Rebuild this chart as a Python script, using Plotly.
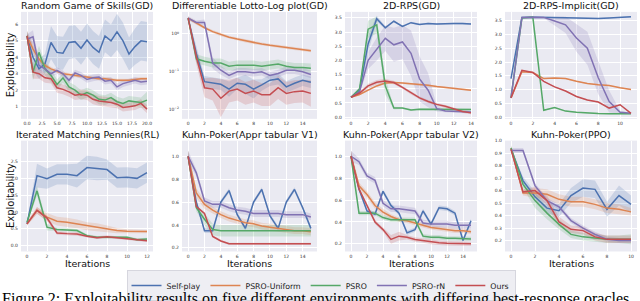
import plotly.graph_objects as go

W, H = 640, 301
NAMES = ["Self-play", "PSRO-Uniform", "PSRO", "PSRO-rN", "Ours"]
COLORS = {"Self-play": "#4c72b0", "PSRO-Uniform": "#dd8452", "PSRO": "#55a868",
          "PSRO-rN": "#8172b3", "Ours": "#c44e52"}

# ---------------- data (means and band half-widths) ----------------
# 1 Random Game of Skills (GD), iterations 0..20
rgs_x = list(range(21))
rgs_mean = {
    "Self-play":    [5.3, 4.0, 3.3, 3.6, 4.9, 4.3, 4.25, 4.9, 4.95, 4.55, 5.05, 4.6, 4.3, 5.3, 5.0, 5.55, 5.0, 4.2, 4.65, 5.0, 4.95],
    "PSRO-Uniform": [5.3, 4.5, 3.9, 3.5, 3.3, 3.15, 3.0, 2.95, 2.9, 2.85, 2.8, 2.75, 2.7, 2.7, 2.65, 2.6, 2.6, 2.6, 2.65, 2.7, 2.7],
    "PSRO":         [5.3, 3.1, 4.3, 3.3, 2.9, 2.35, 2.75, 2.2, 2.0, 1.7, 1.85, 1.7, 1.45, 1.4, 1.55, 1.3, 1.2, 1.35, 1.3, 1.25, 1.4],
    "PSRO-rN":      [5.1, 5.25, 3.5, 3.3, 3.0, 3.2, 3.0, 2.6, 3.05, 2.9, 2.65, 2.75, 2.8, 2.55, 2.6, 2.2, 2.4, 2.5, 2.6, 2.5, 2.55],
    "Ours":         [5.3, 3.1, 3.0, 2.75, 2.7, 2.15, 2.05, 1.9, 1.7, 1.75, 1.7, 1.45, 1.35, 1.3, 1.25, 1.15, 0.95, 1.0, 1.05, 1.2, 0.85],
}
rgs_band = {
    "Self-play":    [0.3, 0.8, 0.6, 0.6, 1.0, 1.0, 1.0, 1.0, 1.0, 1.0, 1.0, 1.0, 1.0, 1.0, 1.0, 1.1, 1.1, 1.0, 1.1, 1.2, 1.2],
    "PSRO-Uniform": [0.3, 0.3, 0.2, 0.15, 0.12, 0.1, 0.1, 0.1, 0.1, 0.1, 0.1, 0.1, 0.1, 0.1, 0.1, 0.1, 0.1, 0.1, 0.1, 0.1, 0.1],
    "PSRO":         [0.3, 0.5, 0.4, 0.4, 0.4, 0.3, 0.3, 0.3, 0.3, 0.3, 0.3, 0.3, 0.3, 0.3, 0.3, 0.3, 0.3, 0.3, 0.3, 0.3, 0.5],
    "PSRO-rN":      [0.3, 0.4, 0.3, 0.2, 0.2, 0.2, 0.2, 0.2, 0.2, 0.2, 0.2, 0.2, 0.2, 0.2, 0.2, 0.2, 0.2, 0.2, 0.2, 0.2, 0.2],
    "Ours":         [0.3, 0.4, 0.3, 0.3, 0.3, 0.3, 0.3, 0.3, 0.3, 0.3, 0.3, 0.3, 0.3, 0.3, 0.3, 0.25, 0.25, 0.25, 0.25, 0.25, 0.25],
}

# 2 Differentiable Lotto (log), iterations 0..15 ; band in log10 units
lotto_x = list(range(16))
lotto_mean = {
    "Self-play":    [2.6, 0.3, 0.055, 0.05, 0.047, 0.035, 0.05, 0.047, 0.035, 0.045, 0.06, 0.065, 0.04, 0.05, 0.06, 0.053],
    "PSRO-Uniform": [2.6, 1.9, 1.45, 1.15, 0.95, 0.82, 0.73, 0.65, 0.59, 0.54, 0.5, 0.47, 0.44, 0.41, 0.38, 0.36],
    "PSRO":         [2.6, 0.22, 0.19, 0.17, 0.17, 0.14, 0.15, 0.15, 0.15, 0.14, 0.15, 0.16, 0.14, 0.13, 0.13, 0.125],
    "PSRO-rN":      [2.6, 2.0, 2.0, 0.17, 0.11, 0.08, 0.1, 0.1, 0.094, 0.1, 0.08, 0.09, 0.11, 0.11, 0.1, 0.085],
    "Ours":         [2.6, 0.25, 0.038, 0.035, 0.02, 0.031, 0.035, 0.027, 0.031, 0.025, 0.025, 0.038, 0.027, 0.03, 0.031, 0.027],
}
lotto_band = {
    "Self-play":    [0.05, 0.2, 0.15, 0.15, 0.15, 0.2, 0.15, 0.25, 0.25, 0.15, 0.15, 0.15, 0.15, 0.15, 0.15, 0.15],
    "PSRO-Uniform": [0.04, 0.04, 0.04, 0.04, 0.04, 0.04, 0.04, 0.04, 0.04, 0.04, 0.04, 0.04, 0.04, 0.04, 0.04, 0.04],
    "PSRO":         [0.05, 0.12, 0.12, 0.12, 0.12, 0.12, 0.12, 0.12, 0.12, 0.12, 0.12, 0.12, 0.12, 0.12, 0.12, 0.12],
    "PSRO-rN":      [0.05, 0.05, 0.08, 0.15, 0.12, 0.1, 0.1, 0.1, 0.1, 0.1, 0.1, 0.1, 0.1, 0.1, 0.1, 0.1],
    "Ours":         [0.05, 0.2, 0.25, 0.3, 0.5, 0.3, 0.3, 0.3, 0.3, 0.3, 0.3, 0.3, 0.3, 0.3, 0.3, 0.35],
}

# 3 2D-RPS (GD), iterations 0..14
rps_x = list(range(15))
rps_mean = {
    "Self-play":    [0.7, 0.95, 2.58, 3.47, 3.15, 3.38, 3.2, 3.33, 3.27, 3.3, 3.28, 3.3, 3.3, 3.3, 3.28],
    "PSRO-Uniform": [0.7, 0.8, 0.95, 1.1, 1.2, 1.22, 1.2, 1.18, 1.15, 1.12, 1.08, 1.05, 1.02, 0.98, 0.95],
    "PSRO":         [0.7, 1.0, 3.1, 3.25, 1.1, 0.32, 0.32, 0.25, 0.28, 0.28, 0.28, 0.28, 0.27, 0.27, 0.27],
    "PSRO-rN":      [0.7, 0.9, 2.0, 2.4, 2.78, 2.55, 2.65, 2.25, 1.35, 0.95, 0.3, 0.22, 0.2, 0.18, 0.18],
    "Ours":         [0.7, 0.85, 1.1, 1.23, 1.27, 1.22, 1.05, 0.85, 0.68, 0.55, 0.45, 0.38, 0.28, 0.2, 0.15],
}
rps_band = {
    "Self-play":    [0.02, 0.05, 0.3, 0.1, 0.05, 0.03, 0.03, 0.03, 0.03, 0.03, 0.03, 0.03, 0.03, 0.03, 0.03],
    "PSRO-Uniform": [0.03, 0.03, 0.03, 0.03, 0.03, 0.03, 0.03, 0.03, 0.03, 0.03, 0.03, 0.03, 0.03, 0.03, 0.03],
    "PSRO":         [0.02, 0.05, 0.3, 0.3, 0.3, 0.05, 0.03, 0.03, 0.03, 0.03, 0.03, 0.03, 0.03, 0.03, 0.03],
    "PSRO-rN":      [0.02, 0.05, 0.3, 0.4, 0.45, 0.6, 0.6, 0.8, 0.8, 0.6, 0.1, 0.05, 0.05, 0.05, 0.05],
    "Ours":         [0.03, 0.05, 0.08, 0.08, 0.08, 0.06, 0.05, 0.05, 0.05, 0.05, 0.05, 0.05, 0.05, 0.05, 0.05],
}

# 4 2D-RPS-Implicit (GD), iterations 0..11
rpsi_x = list(range(12))
rpsi_mean = {
    "Self-play":    [1.4, 3.62, 3.63, 3.63, 3.62, 3.61, 3.6, 3.58, 3.58, 3.6, 3.62, 3.64],
    "PSRO-Uniform": [0.7, 1.65, 1.62, 1.4, 1.42, 1.4, 1.3, 1.22, 1.18, 1.15, 1.07, 1.0],
    "PSRO":         [0.7, 3.6, 3.63, 0.25, 0.35, 0.22, 0.18, 0.15, 0.13, 0.12, 0.12, 0.12],
    "PSRO-rN":      [0.7, 3.62, 3.63, 3.62, 3.49, 3.35, 2.87, 2.5, 1.43, 0.57, 0.18, 0.14],
    "Ours":         [0.7, 1.7, 1.62, 1.3, 1.1, 0.95, 0.75, 0.62, 0.55, 0.33, 0.45, 0.14],
}
rpsi_band = {
    "Self-play":    [0.02, 0.02, 0.02, 0.02, 0.02, 0.02, 0.02, 0.02, 0.02, 0.02, 0.02, 0.02],
    "PSRO-Uniform": [0.02, 0.02, 0.02, 0.02, 0.02, 0.02, 0.02, 0.02, 0.02, 0.02, 0.02, 0.02],
    "PSRO":         [0.02, 0.02, 0.02, 0.02, 0.02, 0.02, 0.02, 0.02, 0.02, 0.02, 0.02, 0.02],
    "PSRO-rN":      [0.02, 0.02, 0.02, 0.02, 0.15, 0.3, 0.5, 0.6, 0.6, 0.4, 0.05, 0.02],
    "Ours":         [0.02, 0.02, 0.02, 0.02, 0.02, 0.02, 0.02, 0.02, 0.02, 0.02, 0.02, 0.02],
}

# 5 Iterated Matching Pennies (RL), iterations 0..12 (no PSRO-rN)
imp_x = list(range(13))
imp_mean = {
    "Self-play":    [0.65, 2.08, 1.99, 2.12, 2.12, 2.08, 2.32, 2.29, 2.26, 2.02, 2.03, 2.0, 2.17],
    "PSRO-Uniform": [0.65, 1.05, 0.85, 0.73, 0.7, 0.65, 0.58, 0.55, 0.5, 0.45, 0.43, 0.42, 0.42],
    "PSRO":         [0.7, 1.63, 0.55, 0.48, 0.47, 0.45, 0.3, 0.25, 0.25, 0.25, 0.25, 0.18, 0.2],
    "Ours":         [0.65, 1.05, 0.82, 0.38, 0.36, 0.35, 0.28, 0.24, 0.27, 0.24, 0.22, 0.18, 0.15],
}
imp_band = {
    "Self-play":    [0.05, 0.35, 0.3, 0.3, 0.3, 0.35, 0.35, 0.35, 0.3, 0.3, 0.3, 0.3, 0.3],
    "PSRO-Uniform": [0.05, 0.1, 0.12, 0.13, 0.13, 0.13, 0.12, 0.12, 0.1, 0.08, 0.06, 0.05, 0.05],
    "PSRO":         [0.05, 0.15, 0.1, 0.05, 0.05, 0.05, 0.04, 0.04, 0.04, 0.04, 0.04, 0.04, 0.04],
    "Ours":         [0.05, 0.1, 0.08, 0.05, 0.05, 0.05, 0.04, 0.04, 0.04, 0.04, 0.04, 0.04, 0.04],
}

# 6 Kuhn-Poker (Appr tabular V1), iterations 0..15
kv1_x = list(range(16))
kv1_mean = {
    "Self-play":    [1.0, 0.6, 0.35, 0.35, 0.6, 0.7, 0.49, 0.37, 0.6, 0.71, 0.48, 0.37, 0.6, 0.71, 0.55, 0.37],
    "PSRO-Uniform": [1.0, 0.68, 0.58, 0.53, 0.49, 0.46, 0.44, 0.42, 0.41, 0.39, 0.38, 0.37, 0.36, 0.35, 0.35, 0.34],
    "PSRO":         [1.0, 0.55, 0.45, 0.36, 0.35, 0.35, 0.35, 0.35, 0.35, 0.35, 0.35, 0.35, 0.35, 0.35, 0.35, 0.35],
    "PSRO-rN":      [1.0, 0.855, 0.61, 0.58, 0.58, 0.55, 0.53, 0.52, 0.5, 0.5, 0.5, 0.5, 0.49, 0.49, 0.49, 0.47],
    "Ours":         [1.0, 0.56, 0.5, 0.3, 0.26, 0.235, 0.235, 0.235, 0.235, 0.235, 0.235, 0.235, 0.235, 0.235, 0.235, 0.235],
}
kv1_band = {
    "Self-play":    [0.05, 0.02, 0.02, 0.02, 0.02, 0.02, 0.02, 0.02, 0.02, 0.02, 0.02, 0.02, 0.02, 0.02, 0.02, 0.02],
    "PSRO-Uniform": [0.05, 0.04, 0.04, 0.03, 0.03, 0.03, 0.03, 0.03, 0.03, 0.03, 0.03, 0.03, 0.03, 0.03, 0.03, 0.03],
    "PSRO":         [0.05, 0.03, 0.05, 0.05, 0.05, 0.05, 0.05, 0.05, 0.05, 0.05, 0.05, 0.05, 0.05, 0.05, 0.05, 0.05],
    "PSRO-rN":      [0.05, 0.03, 0.03, 0.03, 0.03, 0.03, 0.03, 0.03, 0.03, 0.03, 0.03, 0.03, 0.03, 0.03, 0.03, 0.03],
    "Ours":         [0.05, 0.01, 0.01, 0.01, 0.01, 0.01, 0.01, 0.01, 0.01, 0.01, 0.01, 0.01, 0.01, 0.01, 0.01, 0.01],
}

# 7 Kuhn-Poker (Appr tabular V2), iterations 0..15
kv2_x = list(range(16))
kv2_mean = {
    "Self-play":    [1.0, 0.7, 0.5, 0.47, 0.68, 0.55, 0.48, 0.3, 0.33, 0.5, 0.38, 0.53, 0.52, 0.48, 0.23, 0.41],
    "PSRO-Uniform": [1.0, 0.73, 0.65, 0.55, 0.49, 0.45, 0.42, 0.41, 0.39, 0.37, 0.35, 0.34, 0.33, 0.32, 0.32, 0.31],
    "PSRO":         [1.0, 0.48, 0.48, 0.48, 0.44, 0.42, 0.42, 0.42, 0.42, 0.27, 0.26, 0.26, 0.25, 0.25, 0.25, 0.245],
    "PSRO-rN":      [1.0, 0.95, 0.82, 0.78, 0.57, 0.52, 0.52, 0.51, 0.5, 0.39, 0.38, 0.38, 0.38, 0.37, 0.37, 0.37],
    "Ours":         [1.0, 0.7, 0.55, 0.4, 0.33, 0.24, 0.27, 0.26, 0.24, 0.23, 0.215, 0.21, 0.205, 0.205, 0.2, 0.2],
}
kv2_band = {
    "Self-play":    [0.05, 0.02, 0.02, 0.02, 0.02, 0.02, 0.02, 0.02, 0.02, 0.02, 0.02, 0.02, 0.02, 0.02, 0.02, 0.02],
    "PSRO-Uniform": [0.05, 0.03, 0.03, 0.03, 0.03, 0.02, 0.02, 0.02, 0.02, 0.02, 0.02, 0.02, 0.02, 0.02, 0.02, 0.02],
    "PSRO":         [0.05, 0.02, 0.02, 0.02, 0.02, 0.02, 0.02, 0.02, 0.02, 0.02, 0.02, 0.02, 0.02, 0.02, 0.02, 0.02],
    "PSRO-rN":      [0.05, 0.03, 0.03, 0.03, 0.03, 0.03, 0.03, 0.03, 0.03, 0.03, 0.03, 0.03, 0.03, 0.03, 0.03, 0.03],
    "Ours":         [0.05, 0.02, 0.02, 0.02, 0.02, 0.04, 0.04, 0.02, 0.02, 0.02, 0.02, 0.02, 0.02, 0.02, 0.02, 0.02],
}

# 8 Kuhn-Poker (PPO), iterations 0..10
ppo_x = list(range(11))
ppo_mean = {
    "Self-play":    [0.93, 0.68, 0.55, 0.46, 0.44, 0.56, 0.62, 0.61, 0.45, 0.56, 0.49],
    "PSRO-Uniform": [0.94, 0.58, 0.58, 0.57, 0.53, 0.51, 0.51, 0.49, 0.46, 0.45, 0.43],
    "PSRO":         [0.94, 0.65, 0.52, 0.42, 0.33, 0.25, 0.23, 0.22, 0.21, 0.21, 0.21],
    "PSRO-rN":      [0.92, 0.92, 0.64, 0.52, 0.47, 0.36, 0.3, 0.25, 0.21, 0.2, 0.2],
    "Ours":         [0.93, 0.59, 0.6, 0.52, 0.35, 0.29, 0.28, 0.23, 0.21, 0.21, 0.21],
}
ppo_band = {
    "Self-play":    [0.02, 0.03, 0.04, 0.04, 0.05, 0.06, 0.07, 0.07, 0.06, 0.08, 0.07],
    "PSRO-Uniform": [0.02, 0.02, 0.04, 0.04, 0.04, 0.04, 0.04, 0.04, 0.04, 0.04, 0.03],
    "PSRO":         [0.02, 0.03, 0.06, 0.05, 0.04, 0.03, 0.03, 0.03, 0.03, 0.03, 0.04],
    "PSRO-rN":      [0.02, 0.02, 0.02, 0.02, 0.02, 0.02, 0.02, 0.02, 0.02, 0.02, 0.02],
    "Ours":         [0.02, 0.02, 0.03, 0.04, 0.04, 0.03, 0.03, 0.03, 0.03, 0.03, 0.03],
}

TITLES = ["Random Game of Skills(GD)", "Differentiable Lotto-Log plot(GD)", "2D-RPS(GD)",
          "2D-RPS-Implicit(GD)", "Iterated Matching Pennies(RL)", "Kuhn-Poker(Appr tabular V1)",
          "Kuhn-Poker(Appr tabular V2)", "Kuhn-Poker(PPO)"]

# ---------------- layout helpers ----------------
COLS = [(21, 153), (182, 317), (345, 477), (505, 637)]
ROWS = [(10, 118), (140, 252)]


def hexrgba(h, a):
    h = h.lstrip("#")
    return "rgba(%d,%d,%d,%s)" % (int(h[0:2], 16), int(h[2:4], 16), int(h[4:6], 16), a)


panels = [
    dict(x=rgs_x, mean=rgs_mean, band=rgs_band, log=False, xr=[-1, 21], yr=[0.26, 6.76],
         xt=[0, 2.5, 5, 7.5, 10, 12.5, 15, 17.5, 20], xf=".1f", yt=[1, 2, 3, 4, 5, 6], yf="d"),
    dict(x=lotto_x, mean=lotto_mean, band=lotto_band, log=True, xr=[-0.75, 15.75], yr=[-2.24, 0.58],
         xt=list(range(0, 15, 2)), xf="d"),
    dict(x=rps_x, mean=rps_mean, band=rps_band, log=False, xr=[-0.7, 14.7], yr=[-0.06, 3.71],
         xt=list(range(0, 15, 2)), xf="d", yt=[0, 0.5, 1, 1.5, 2, 2.5, 3, 3.5], yf=".1f"),
    dict(x=rpsi_x, mean=rpsi_mean, band=rpsi_band, log=False, xr=[-0.55, 11.55], yr=[-0.06, 3.82],
         xt=list(range(0, 11, 2)), xf="d", yt=[0, 0.5, 1, 1.5, 2, 2.5, 3, 3.5], yf=".1f"),
    dict(x=imp_x, mean=imp_mean, band=imp_band, log=False, xr=[-0.6, 12.6], yr=[-0.17, 3.12],
         xt=list(range(0, 13, 2)), xf="d", yt=[0, 0.5, 1, 1.5, 2, 2.5], yf=".1f"),
    dict(x=kv1_x, mean=kv1_mean, band=kv1_band, log=False, xr=[-0.75, 15.75], yr=[0.168, 1.137],
         xt=list(range(0, 15, 2)), xf="d", yt=[0.2, 0.4, 0.6, 0.8, 1.0], yf=".1f"),
    dict(x=kv2_x, mean=kv2_mean, band=kv2_band, log=False, xr=[-0.75, 15.75], yr=[0.13, 1.143],
         xt=list(range(0, 15, 2)), xf="d", yt=[0.2, 0.4, 0.6, 0.8, 1.0], yf=".1f"),
    dict(x=ppo_x, mean=ppo_mean, band=ppo_band, log=False, xr=[-0.5, 10.5], yr=[0.113, 1.0],
         xt=list(range(0, 11, 2)), xf="d", yt=[0.2, 0.3, 0.4, 0.5, 0.6, 0.7, 0.8, 0.9, 1.0], yf=".1f"),
]

fig = go.Figure()
annotations = []
TICKFONT = dict(family="DejaVu Sans", size=4.5, color="#333333")
shown = set()

for i, p in enumerate(panels):
    r, c = divmod(i, 4)
    k = i + 1
    xa = "x" if k == 1 else "x%d" % k
    ya = "y" if k == 1 else "y%d" % k
    x0, x1 = COLS[c]
    y0, y1 = ROWS[r]
    xdom = [x0 / W, x1 / W]
    ydom = [1 - y1 / H, 1 - y0 / H]
    xs = p["x"]
    for name in NAMES:
        if name not in p["mean"]:
            continue
        m = p["mean"][name]
        b = p["band"][name]
        if p["log"]:
            up = [v * 10 ** d for v, d in zip(m, b)]
            lo = [v / 10 ** d for v, d in zip(m, b)]
        else:
            up = [v + d for v, d in zip(m, b)]
            lo = [v - d for v, d in zip(m, b)]
        fig.add_trace(go.Scatter(x=xs + xs[::-1], y=up + lo[::-1], fill="toself",
                                 fillcolor=hexrgba(COLORS[name], 0.2), line=dict(width=0),
                                 mode="lines", hoverinfo="skip", showlegend=False,
                                 xaxis=xa, yaxis=ya))
    for name in NAMES:
        if name not in p["mean"]:
            continue
        fig.add_trace(go.Scatter(x=xs, y=p["mean"][name], mode="lines", name=name,
                                 line=dict(color=COLORS[name], width=1.5),
                                 showlegend=(name not in shown), legendgroup=name,
                                 xaxis=xa, yaxis=ya))
        shown.add(name)

    xkey = "xaxis" if k == 1 else "xaxis%d" % k
    ykey = "yaxis" if k == 1 else "yaxis%d" % k
    xax = dict(domain=xdom, anchor=ya, range=p["xr"], tickvals=p["xt"], tickformat=p["xf"],
               showgrid=True, gridcolor="white", gridwidth=1, zeroline=False, showline=False,
               ticks="", tickfont=TICKFONT, ticklabelstandoff=1)
    if p["log"]:
        yax = dict(domain=ydom, anchor=xa, type="log", range=p["yr"], tickvals=[0.01, 0.1, 1],
                   ticktext=["10<sup>−2</sup>", "10<sup>−1</sup>", "10<sup>0</sup>"])
    else:
        yax = dict(domain=ydom, anchor=xa, range=p["yr"], tickvals=p["yt"], tickformat=p["yf"])
    yax.update(showgrid=True, gridcolor="white", gridwidth=1, zeroline=False, showline=False,
               ticks="", tickfont=TICKFONT, ticklabelstandoff=2)
    fig.update_layout(**{xkey: xax, ykey: yax})

    annotations.append(dict(text=TITLES[i], x=(x0 + x1) / 2 / W, y=1 - (y0 + 1) / H,
                            xref="paper", yref="paper", xanchor="center", yanchor="bottom",
                            showarrow=False, font=dict(family="DejaVu Sans", size=9.5, color="#111111")))
    if r == 1:
        annotations.append(dict(text="Iterations", x=(x0 + x1) / 2 / W, y=1 - 264 / H,
                                xref="paper", yref="paper", xanchor="center", yanchor="middle",
                                showarrow=False, font=dict(family="DejaVu Sans", size=9.5, color="#111111")))
    if c == 0:
        annotations.append(dict(text="Exploitability", x=10 / W, y=1 - (y0 + y1) / 2 / H,
                                xref="paper", yref="paper", xanchor="center", yanchor="middle",
                                textangle=-90, showarrow=False,
                                font=dict(family="DejaVu Sans", size=10, color="#111111")))

annotations.append(dict(text="Figure 2: Exploitability results on five different environments with differing best-response oracles.",
                        x=0, y=1 - 289 / H, xref="paper", yref="paper", xanchor="left", yanchor="top",
                        showarrow=False, font=dict(family="Liberation Serif", size=16, color="black")))

fig.update_layout(
    width=W, height=H, margin=dict(l=0, r=0, t=0, b=0),
    paper_bgcolor="white", plot_bgcolor="#eaeaf2",
    annotations=annotations,
    legend=dict(orientation="h", x=321 / W, y=1 - 271 / H, xanchor="center", yanchor="top",
                bgcolor="#eeeef3", bordercolor="#d6d6de", borderwidth=1,
                font=dict(family="DejaVu Sans", size=7.8, color="#222222"),
                itemwidth=30, tracegroupgap=0),
)

fig.write_html("out.html", config={"displayModeBar": False},
               post_script="document.body.style.margin='0';document.body.style.padding='0';")
